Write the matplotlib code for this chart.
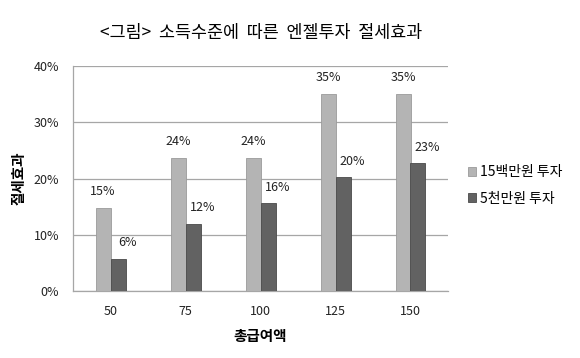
import numpy as np
import matplotlib.pyplot as plt

plt.rcParams['font.family'] = ['Noto Sans CJK KR', 'DejaVu Sans']

incomes = ['50', '75', '100', '125', '150']
invest_15m = [14.8, 23.7, 23.7, 35.0, 35.0]
invest_50m = [5.7, 11.9, 15.6, 20.2, 22.7]
names = ['15백만원 투자', '5천만원 투자']

fig = plt.figure(figsize=(5.8, 3.58), dpi=100)
ax = fig.add_axes([73/580, 1 - 291/358, 375/580, 225/358])

x = np.arange(len(incomes))
w = 0.2
b1 = ax.bar(x - w/2, invest_15m, w, color='#b4b4b4', edgecolor='#9a9a9a', linewidth=0.6, label=names[0], zorder=3)
b2 = ax.bar(x + w/2, invest_50m, w, color='#626262', edgecolor='#4a4a4a', linewidth=0.6, label=names[1], zorder=3)

for xi, v in zip(x, invest_15m):
    ax.annotate(f'{v:.0f}%', (xi - w/2, v), xytext=(0, 7), textcoords='offset points',
                ha='center', va='bottom', fontsize=9, color='#222222')
for xi, v in zip(x, invest_50m):
    ax.annotate(f'{v:.0f}%', (xi + w/2, v), xytext=(7, 7), textcoords='offset points',
                ha='center', va='bottom', fontsize=9, color='#222222')

ax.set_xlim(-0.5, len(incomes) - 0.5)
ax.set_ylim(0, 40)
ax.set_yticks([0, 10, 20, 30, 40])
ax.set_yticklabels(['0%', '10%', '20%', '30%', '40%'])
ax.set_xticks(x)
ax.set_xticklabels(incomes)
ax.tick_params(length=0, labelsize=9, colors='#222222')
ax.tick_params(axis='x', pad=10)
ax.tick_params(axis='y', pad=10)
ax.grid(axis='y', color='#a6a6a6', linewidth=0.9, zorder=0)
for s in ['top', 'right']:
    ax.spines[s].set_visible(False)
for s in ['left', 'bottom']:
    ax.spines[s].set_color('#a6a6a6')
    ax.spines[s].set_linewidth(0.9)

ax.set_xlabel('총급여액', fontsize=10.5, fontweight='bold', labelpad=7)
ax.set_ylabel('절세효과', fontsize=10.5, fontweight='bold', labelpad=5)

fig.text(261/580, 1 - 33/358, '<그림>  소득수준에  따른  엔젤투자  절세효과', ha='center', va='center', fontsize=12.5)

ax.legend(loc='center left', bbox_to_anchor=(1.02, 0.47), frameon=False, fontsize=10,
          handlelength=0.6, handleheight=0.6, handletextpad=0.3, labelspacing=0.9)

fig.savefig('out.png', dpi=100)
